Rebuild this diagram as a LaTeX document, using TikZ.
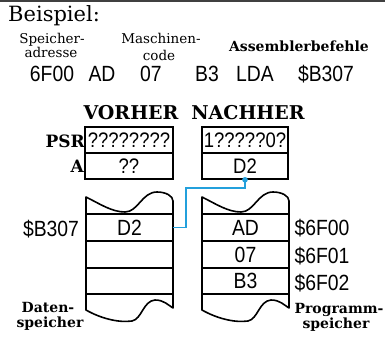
\documentclass[tikz,border=0pt]{standalone}
\usepackage{fontspec}
\setmainfont{DejaVu Serif}
\newfontfamily\hexf{Liberation Sans}[FakeStretch=0.88]
\newfontfamily\slab{DejaVu Serif}
\definecolor{lineblue}{RGB}{35,160,220}
\begin{document}
\begin{tikzpicture}[x=1pt,y=-1pt,
  txt/.style={inner sep=0pt, anchor=base},
  hex/.style={txt, font=\hexf\fontsize{22}{22}\selectfont},
  lab/.style={txt, font=\slab\fontsize{13.5}{13.5}\selectfont},
  bold/.style={txt, font=\slab\bfseries\fontsize{14}{14}\selectfont},
  head/.style={txt, font=\slab\bfseries\fontsize{19}{19}\selectfont},
  reg/.style={draw, line width=1.6pt, inner sep=0pt, minimum height=26pt, font=\hexf\fontsize{21}{21}\selectfont},
  cell/.style={inner sep=0pt, minimum width=87pt, minimum height=27pt, font=\hexf\fontsize{22}{22}\selectfont},
  mem/.style={line width=1.6pt, line join=round},
  conn/.style={lineblue, line width=1.6pt}]
\useasboundingbox (0,0) rectangle (385,342);
\draw[line width=3pt, black!75] (0,1) -- (385,1);
% header
\node[txt, font=\slab\fontsize{21}{21}\selectfont, anchor=base west] (bsp) at (8,22) {Beispiel:};
\node[lab] (sp1) at (52,44) {Speicher-};
\node[lab] (sp2) at (51,58) {adresse};
\node[lab] (mc1) at (161,44) {Maschinen-};
\node[lab] (mc2) at (159,61) {code};
\node[bold] (asm) at (299,52) {Assemblerbefehle};
\node[hex] (h1) at (52,82) {6F00};
\node[hex] (h2) at (102,82) {AD};
\node[hex] (h3) at (151,82) {07};
\node[hex] (h4) at (207,82) {B3};
\node[hex] (h5) at (255,82) {LDA};
\node[hex] (h6) at (326,82) {\$B307};
% registers
\node[head] (vor) at (131,119) {VORHER};
\node[head] (nach) at (248,119) {NACHHER};
\node[txt, font=\slab\bfseries\fontsize{17}{17}\selectfont, anchor=base east] (psr) at (85,147) {PSR};
\node[txt, font=\slab\bfseries\fontsize{17}{17}\selectfont, anchor=base east] (areg) at (84,172) {A};
\node[reg, minimum width=88pt] (vpsr) at (129,140) {????????};
\node[reg, minimum width=88pt] (va) at (129,166) {??};
\node[reg, minimum width=86pt] (npsr) at (245,140) {1?????0?};
\node[reg, minimum width=86pt] (na) at (245,166) {D2};
% data memory
\draw[mem] (86,197) .. controls (100,204) and (112,212) .. (125,212) .. controls (138,212) and (142,192) .. (157,192) .. controls (166,192) and (173,196) .. (173,201) -- (173,308) .. controls (168,305) and (164,300) .. (155,300) .. controls (143,301) and (142,319) .. (132,321) .. controls (118,323) and (100,318) .. (86,310) -- cycle;
\foreach \yy in {214,241,268,294} \draw[mem] (86,\yy) -- (173,\yy);
\node[cell] (dm1) at (129.5,227.5) {D2};
\node[hex] (dadr) at (51,236) {\$B307};
\node[bold] (dat1) at (48,312) {Daten-};
\node[bold] (dat2) at (50,327) {speicher};
% program memory
\begin{scope}[xshift=116pt]
\draw[mem] (86,197) .. controls (100,204) and (112,212) .. (125,212) .. controls (138,212) and (142,192) .. (157,192) .. controls (166,192) and (173,196) .. (173,201) -- (173,308) .. controls (168,305) and (164,300) .. (155,300) .. controls (143,301) and (142,319) .. (132,321) .. controls (118,323) and (100,318) .. (86,310) -- cycle;
\foreach \yy in {214,241,268,294} \draw[mem] (86,\yy) -- (173,\yy);
\end{scope}
\node[cell] (pm1) at (245.5,227.5) {AD};
\node[cell] (pm2) at (245.5,254.5) {07};
\node[cell] (pm3) at (245.5,281) {B3};
\node[hex] (pa1) at (322,235) {\$6F00};
\node[hex] (pa2) at (322,263) {\$6F01};
\node[hex] (pa3) at (322,290) {\$6F02};
\node[bold] (pg1) at (339,313) {Programm-};
\node[bold] (pg2) at (336,328) {speicher};
% connector
\coordinate (bend) at (186,188);
\draw[conn] (na.south) |- (bend) |- (dm1.east);
\fill[lineblue] (na.south) circle (2.8pt);
\end{tikzpicture}
\end{document}
